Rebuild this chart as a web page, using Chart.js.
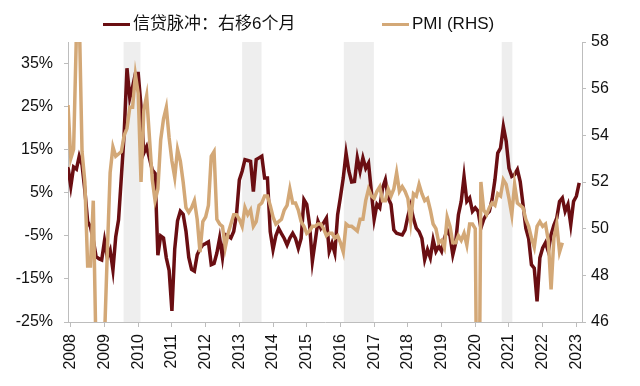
<!DOCTYPE html>
<html>
<head>
<meta charset="utf-8">
<script src="https://cdn.jsdelivr.net/npm/chart.js@4.4.0/dist/chart.umd.min.js"></script>
<style>
  body { margin: 0; background: #fff; }
  #wrap { position: relative; width: 640px; height: 386px; }
  #legend { position: absolute; top: 13px; left: 0; width: 640px; height: 22px;
            font: 17px 'Liberation Sans', 'Noto Sans CJK SC', sans-serif; color: #111; }
  .item { position: absolute; top: 0; line-height: 22px; white-space: nowrap; }
  .swatch { display: inline-block; width: 27px; height: 3.5px; vertical-align: middle; margin-right: 3px; }
</style>
</head>
<body>
<div id="wrap">
  <canvas id="chart" width="640" height="386"></canvas>
  <div id="legend"></div>
</div>
<script>
// month index 0 = Dec 2007, one point per month
var yearTicks = [1, 13, 25, 37, 49, 61, 73, 85, 97, 109, 121, 133, 145, 157, 169, 181];
var yearLabels = ['2008','2009','2010','2011','2012','2013','2014','2015','2016','2017','2018','2019','2020','2021','2022','2023'];
var leftTicks = [-25, -15, -5, 5, 15, 25, 35];

var seriesNames = ['信贷脉冲：右移6个月', 'PMI (RHS)'];
var seriesColors = ['#6a0e12', '#d3a877'];

// credit impulse, shifted 6 months (%)
var creditImpulse = [
  11, 6.5, 11, 10.5, 13.5, 11.5, 5.6, -1.7, -2.9, -6, -9.8, -10.3,
  -10.6, -6.1, -10, -8.3, -12.9, -5.2, -1.3, 8.7, 18.8, 33.9, 27, 29.6,
  32.7, 32.7, 25, 14.2, 15.7, 13, 10.3, 9.5, -9.5, -5, -5.5, -10.1,
  -13, -22.4, -8, -1.5, 0.7, 0, -3.9, -10, -12.8, -13.2, -9.4, -8,
  -7.1, -6.8, -6.4, -11.7, -11.4, -9, -5.5, -10, -4.7, -5, -5.5, -4,
  0, 8, 10, 12.7, 12.5, 12.3, 5.3, 12.7, 13.1, 13.5, 8.4, 8.4,
  -4, -8.2, -5, -3.3, -4.5, -5.6, -7.1, -5.5, -4.4, -5.6, -7.9, -5.6,
  3.4, 2.3, -2.4, -10.9, -6.3, -1.6, -3.2, -2, -0.9, -8.6, -6.7, -9,
  -0.1, 4, 8.4, 14.2, 10, 7.5, 7.6, 13.1, 10, 13.1, 10.7, 11.9,
  5.3, -1.2, 2.3, 1.5, 6.1, 8, 3.8, 2.3, -3.6, -4.4, -4.6, -4.8,
  -3.6, -0.5, 2, -1, -3.2, -4, -5.6, -10.5, -8.2, -10.1, -5.9, -8.6,
  -7.4, -8.6, -5.6, -3.6, -5, -9.4, -6.7, -0.1, 3, 8.8, 3, 3.8,
  0.7, 1.5, 0.7, -3.2, -1.2, 0, 0.7, 3.5, 8, 14.2, 15.4, 20.4,
  17, 10.7, 8.8, 9.2, 10.4, 7.6, 2.3, -3.2, -5.6, -11.7, -12.5, -20.2,
  -10.1, -7.8, -6.6, -8.6, -4.7, -2.5, -0.9, 3, 3.8, 0.7, 2.3, -2.4,
  3, 4.2, 7.3
];

// manufacturing PMI (right axis)
var pmi = [
  55.3,
  53.0, 53.4, 58.4, 59.2, 53.3, 52.0, 48.4, 48.4, 51.2, 44.6, 38.8, 41.2,
  45.3, 49.0, 52.4, 53.5, 53.1, 53.2, 53.3, 54.0, 54.3, 55.2, 55.2, 56.6,
  55.8, 52.0, 55.1, 55.7, 53.9, 52.1, 51.2, 51.7, 53.8, 54.7, 55.2, 53.9,
  52.9, 52.2, 53.4, 52.9, 52.0, 50.9, 50.7, 50.9, 51.2, 50.4, 49.0, 50.3,
  50.5, 51.0, 53.1, 53.3, 50.4, 50.2, 50.1, 49.2, 49.8, 50.2, 50.6, 50.6,
  50.4, 50.1, 50.9, 50.6, 50.8, 50.1, 50.3, 51.0, 51.1, 51.4, 51.4, 51.0,
  50.5, 50.2, 50.3, 50.4, 50.8, 51.0, 51.7, 51.1, 51.1, 50.8, 50.3, 50.1,
  49.8, 49.9, 50.1, 50.1, 50.2, 50.2, 50.0, 49.7, 49.8, 49.8, 49.6, 49.7,
  49.4, 49.0, 50.2, 50.1, 50.1, 50.0, 49.9, 50.4, 50.4, 51.2, 51.7, 51.4,
  51.3, 51.6, 51.8, 51.2, 51.2, 51.7, 51.4, 51.7, 52.4, 51.6, 51.8, 51.6,
  51.3, 50.3, 51.5, 51.4, 51.9, 51.5, 51.2, 51.3, 50.8, 50.2, 50.0, 49.4,
  49.5, 49.2, 50.5, 50.1, 49.4, 49.4, 49.7, 49.5, 49.8, 49.3, 50.2, 50.2,
  50.0, 35.7, 52.0, 50.8, 50.6, 50.9, 51.1, 51.0, 51.5, 51.4, 52.1, 51.9,
  51.3, 50.6, 51.9, 51.1, 51.0, 50.9, 50.4, 50.1, 49.6, 49.2, 50.1, 50.3,
  50.1, 50.2, 49.5, 47.4, 49.6, 50.2, 49.0, 49.4
];

// grey shaded periods, in month index
var bands = [[19.8, 25.8], [62, 68.9], [98.2, 108.9], [154.4, 158.2]];

var tickFont = { family: "'Liberation Sans', Arial, sans-serif", size: 16 };
var axisColor = '#bdbdbd';

function toPoints(arr) {
    return arr.map(function(v, i) { return { x: i, y: v }; });
}

var bandPlugin = {
    id: 'bands',
    beforeDatasetsDraw: function(chart) {
        var ctx = chart.ctx, area = chart.chartArea, x = chart.scales.x;
        ctx.save();
        ctx.fillStyle = '#eeeeee';
        bands.forEach(function(b) {
            var x0 = x.getPixelForValue(b[0]);
            var x1 = x.getPixelForValue(b[1]);
            ctx.fillRect(x0, area.top, x1 - x0, area.bottom - area.top);
        });
        ctx.restore();
    }
};

var ctx = document.getElementById('chart').getContext('2d');
window.myChart = new Chart(ctx, {
    type: 'line',
    data: {
        datasets: [
            { label: seriesNames[0], data: toPoints(creditImpulse), borderColor: seriesColors[0], backgroundColor: seriesColors[0],
              borderWidth: 3.5, pointRadius: 0, yAxisID: 'y', order: 1, tension: 0 },
            { label: seriesNames[1], data: toPoints(pmi), borderColor: seriesColors[1], backgroundColor: seriesColors[1],
              borderWidth: 3.5, pointRadius: 0, yAxisID: 'y1', order: 0, tension: 0 }
        ]
    },
    options: {
        responsive: false,
        animation: false,
        layout: { padding: { top: 42, left: 0, right: 0, bottom: 0 } },
        plugins: { legend: { display: false }, tooltip: { enabled: false } },
        scales: {
            x: {
                type: 'linear', min: 0, max: 183,
                afterBuildTicks: function(s) { s.ticks = yearTicks.map(function(v) { return { value: v }; }); },
                afterFit: function(s) { s.height = 64; },
                ticks: {
                    autoSkip: false, minRotation: 90, maxRotation: 90, padding: 7,
                    font: tickFont, color: '#111',
                    callback: function(v, i) { return yearLabels[i]; }
                },
                grid: { drawOnChartArea: false, tickLength: 5, color: axisColor },
                border: { color: axisColor }
            },
            y: {
                position: 'left', min: -25, max: 40,
                afterBuildTicks: function(s) { s.ticks = leftTicks.map(function(v) { return { value: v }; }); },
                afterFit: function(s) { s.width = 68; },
                ticks: { padding: 11, font: tickFont, color: '#111', callback: function(v) { return v + '%'; } },
                grid: { drawOnChartArea: false, tickLength: 4, color: axisColor },
                border: { color: axisColor }
            },
            y1: {
                position: 'right', min: 46, max: 58,
                afterFit: function(s) { s.width = 58; },
                ticks: { stepSize: 2, padding: 5, font: tickFont, color: '#111' },
                grid: { drawOnChartArea: false, tickLength: 4, color: axisColor },
                border: { color: axisColor }
            }
        }
    },
    plugins: [bandPlugin]
});

// legend as html text
var legendLeft = [103, 382];
var legendHTML = '';
for (var i = 0; i < seriesNames.length; i++) {
    legendHTML += '<span class="item" style="left:' + legendLeft[i] + 'px">';
    legendHTML += '<span class="swatch" style="background:' + seriesColors[i] + '"></span>' + seriesNames[i];
    legendHTML += '</span>';
}
document.getElementById('legend').innerHTML = legendHTML;
</script>
</body>
</html>
